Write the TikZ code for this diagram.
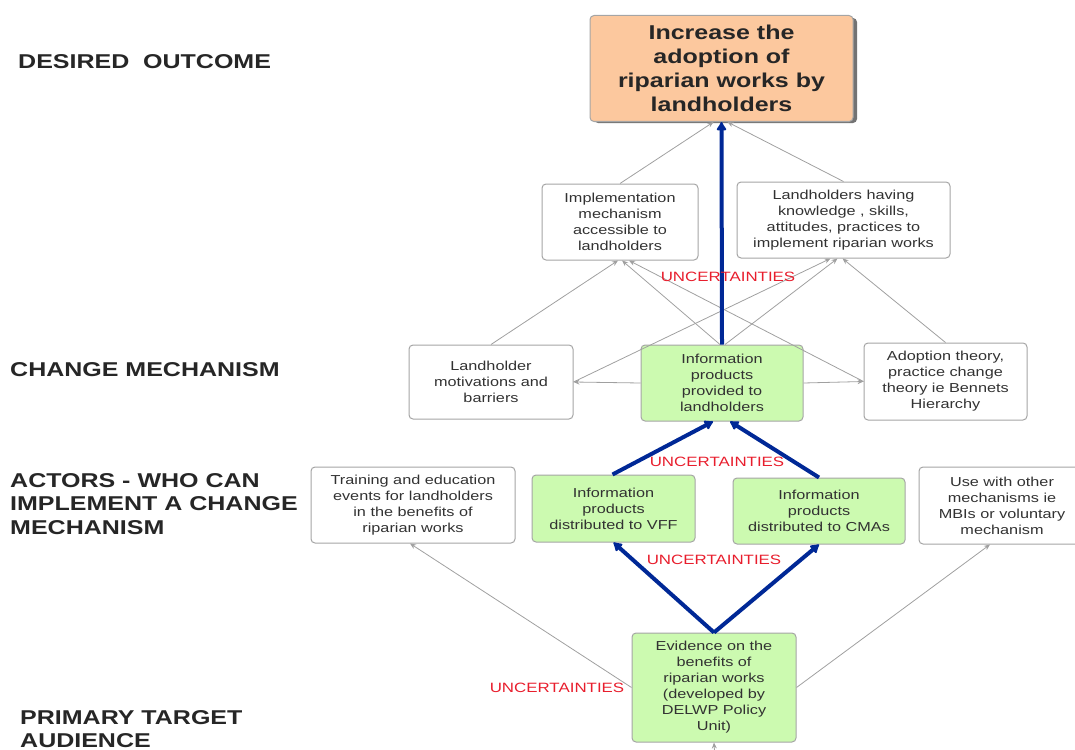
\documentclass[tikz,border=0pt]{standalone}
\usepackage{fontspec}
\setmainfont{Liberation Sans}[FakeStretch=1.25]
\usetikzlibrary{arrows.meta}
\definecolor{boxgray}{RGB}{165,165,165}
\definecolor{linegray}{RGB}{160,160,160}
\definecolor{txtgray}{RGB}{50,50,50}
\definecolor{greenfill}{RGB}{204,250,176}
\definecolor{orangefill}{RGB}{252,200,158}
\definecolor{navy}{RGB}{0,40,150}
\definecolor{uncred}{RGB}{232,30,45}
\begin{document}
\begin{tikzpicture}[x=1pt,y=-1pt,
  box/.style={draw=boxgray, line width=1pt, rounded corners=4pt, fill=white, align=center,
    text=txtgray, inner sep=0pt, font=\fontsize{13}{16}\selectfont},
  greenbox/.style={box, fill=greenfill},
  sect/.style={anchor=west, align=left, text=black!85, inner sep=0pt,
    font=\fontsize{20}{23.5}\selectfont\bfseries},
  unc/.style={text=uncred, inner sep=0pt, font=\fontsize{13.5}{15}\selectfont},
  thin/.style={draw=linegray, line width=0.8pt, -{Stealth[length=6pt,width=5pt]}},
  thick/.style={draw=navy, line width=4pt, -{Latex[length=10pt,width=12pt,round]}}
]
\useasboundingbox (0,0) rectangle (1075,749);

% section labels
\node[sect] (s1) at (18,62) {DESIRED\ \ OUTCOME};
\node[sect] (s2) at (10,370) {CHANGE MECHANISM};
\node[sect, anchor=north west] (s3) at (10,473) {ACTORS - WHO CAN\\IMPLEMENT A CHANGE\\MECHANISM};
\node[sect, anchor=north west] (s4) at (20,710) {PRIMARY TARGET\\AUDIENCE};

% top box with shadow
\fill[black!55, rounded corners=4pt] (594,18) rectangle (857,123);
\node[box, fill=orangefill, minimum width=263pt, minimum height=106pt, text=black!85,
  font=\fontsize{20}{24}\selectfont\bfseries] (top) at (721.5,68.5)
  {Increase the\\adoption of\\riparian works by\\landholders};

\node[box, minimum width=156pt, minimum height=76pt] (impl) at (620,222)
  {Implementation\\mechanism\\accessible to\\landholders};
\node[box, minimum width=213pt, minimum height=76pt] (land) at (843.5,220)
  {Landholders having\\knowledge , skills,\\attitudes, practices to\\implement riparian works};

\node[box, minimum width=164pt, minimum height=74pt] (motiv) at (491,382)
  {Landholder\\motivations and\\barriers};
\node[greenbox, minimum width=162pt, minimum height=76pt] (info) at (722,383)
  {Information\\products\\provided to\\landholders};
\node[box, minimum width=163pt, minimum height=77pt] (adopt) at (945.5,381.5)
  {Adoption theory,\\practice change\\theory ie Bennets\\Hierarchy};

\node[box, minimum width=204pt, minimum height=76pt] (train) at (413,505)
  {Training and education\\events for landholders\\in the benefits of\\riparian works};
\node[greenbox, minimum width=163pt, minimum height=67pt] (vff) at (613.5,508.5)
  {Information\\products\\distributed to VFF};
\node[greenbox, minimum width=172pt, minimum height=66pt] (cma) at (819,511)
  {Information\\products\\distributed to CMAs};
\node[box, minimum width=166pt, minimum height=77pt] (use) at (1002,505.5)
  {Use with other\\mechanisms ie\\MBIs or voluntary\\mechanism};

\node[greenbox, minimum width=164pt, minimum height=109pt] (evid) at (714,687.5)
  {Evidence on the\\benefits of\\riparian works\\(developed by\\DELWP Policy\\Unit)};

\coordinate (below) at (715,760);

% thin gray connectors
\draw[thin] (impl.north) -- ([xshift=-8pt]top.south);
\draw[thin] (land.north) -- ([xshift=6pt]top.south);
\draw[thin] (motiv.north) -- ([xshift=-2pt]impl.south);
\draw[thin] ([xshift=-2pt]info.north) -- ([xshift=2pt]impl.south);
\draw[thin] (adopt.west) -- ([xshift=9pt]impl.south);
\draw[thin] (motiv.east) -- ([xshift=-13pt]land.south);
\draw[thin] ([xshift=3pt]info.north) -- ([xshift=-6pt]land.south);
\draw[thin] (adopt.north) -- ([xshift=-1pt]land.south);
\draw[thin] (info.west) -- (motiv.east);
\draw[thin] (info.east) -- (adopt.west);
\draw[thin] (evid.west) -- ([xshift=-3pt]train.south);
\draw[thin] (evid.east) -- ([xshift=-12pt]use.south);
\draw[thin] (below) -- (evid.south);

% thick blue connectors
\draw[thick] (info.north) -- (top.south);
\draw[thick] ([xshift=-1pt]vff.north) -- ([xshift=-9pt]info.south);
\draw[thick] (cma.north) -- ([xshift=8pt]info.south);
\draw[thick] (evid.north) -- (vff.south);
\draw[thick] (evid.north) -- (cma.south);

% uncertainty labels
\node[unc] (u1) at (728,277) {UNCERTAINTIES};
\node[unc] (u2) at (717,462) {UNCERTAINTIES};
\node[unc] (u3) at (714,560) {UNCERTAINTIES};
\node[unc] (u4) at (557,688) {UNCERTAINTIES};
\end{tikzpicture}
\end{document}
